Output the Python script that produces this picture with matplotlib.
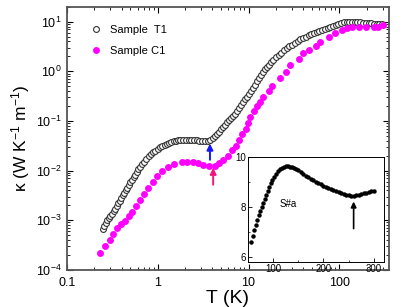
import matplotlib.pyplot as plt
import matplotlib.ticker as mticker

plt.rcParams['font.family'] = ['Liberation Sans', 'DejaVu Sans']
plt.rcParams['mathtext.default'] = 'regular'

# Sample T1 (open circles)
t1_T = [0.249, 0.259, 0.269, 0.279, 0.290, 0.302, 0.314, 0.327, 0.340, 0.353,
        0.367, 0.382, 0.397, 0.413, 0.430, 0.447, 0.465, 0.483, 0.502, 0.522,
        0.543, 0.565, 0.587, 0.611, 0.635, 0.668, 0.708, 0.750, 0.794, 0.841,
        0.891, 0.944, 1.00, 1.06, 1.12, 1.19, 1.26, 1.33, 1.41, 1.50,
        1.58, 1.68, 1.78, 1.91, 2.04, 2.19, 2.34, 2.51, 2.69, 2.88,
        3.09, 3.31, 3.55, 3.80, 4.07, 4.29, 4.51, 4.74, 4.99, 5.25,
        5.52, 5.81, 6.11, 6.43, 6.76, 7.11, 7.48, 7.87, 8.28, 8.71,
        9.16, 9.64, 10.1, 10.7, 11.2, 11.8, 12.4, 13.1, 13.7, 14.5,
        15.2, 16.0, 16.8, 17.7, 18.6, 20.0, 21.4, 22.9, 24.5, 26.3,
        28.2, 30.2, 32.4, 34.7, 37.2, 39.8, 42.7, 45.7, 49.0, 52.5,
        56.2, 60.3, 64.6, 69.2, 74.1, 79.4, 85.1, 91.2, 97.7, 105,
        112, 120, 129, 138, 148, 158, 170, 182, 195, 209,
        224, 240, 257, 275, 295]
t1_k = [6.61e-4, 7.60e-4, 8.75e-4, 1.00e-3, 1.11e-3, 1.22e-3, 1.36e-3, 1.53e-3, 1.72e-3, 1.95e-3,
        2.20e-3, 2.48e-3, 2.81e-3, 3.17e-3, 3.57e-3, 4.04e-3, 4.55e-3, 5.14e-3, 5.79e-3, 6.53e-3,
        7.36e-3, 8.32e-3, 9.38e-3, 1.06e-2, 1.19e-2, 1.34e-2, 1.51e-2, 1.71e-2, 1.93e-2, 2.14e-2,
        2.32e-2, 2.50e-2, 2.70e-2, 2.92e-2, 3.08e-2, 3.25e-2, 3.43e-2, 3.62e-2, 3.76e-2, 3.86e-2,
        3.97e-2, 4.08e-2, 4.18e-2, 4.19e-2, 4.19e-2, 4.18e-2, 4.16e-2, 4.12e-2, 4.05e-2, 3.96e-2,
        3.90e-2, 3.86e-2, 3.94e-2, 4.17e-2, 4.52e-2, 4.98e-2, 5.48e-2, 6.08e-2, 6.78e-2, 7.55e-2,
        8.41e-2, 9.33e-2, 0.1026, 0.113, 0.124, 0.138, 0.158, 0.181, 0.207, 0.238,
        0.272, 0.310, 0.355, 0.405, 0.463, 0.539, 0.628, 0.730, 0.849, 0.989,
        1.11, 1.24, 1.37, 1.53, 1.71, 1.91, 2.13, 2.38, 2.66, 2.96,
        3.21, 3.47, 3.76, 4.07, 4.40, 4.69, 4.99, 5.32, 5.66, 6.01,
        6.31, 6.61, 6.93, 7.28, 7.62, 7.98, 8.37, 8.77, 9.18, 9.50,
        9.68, 9.89, 10.07, 10.0, 9.89, 9.77, 9.68, 9.57, 9.44, 9.31,
        9.20, 9.08, 9.02, 8.97, 8.93]

# Sample C1 (filled magenta)
c1_T = [0.234, 0.264, 0.297, 0.325, 0.360, 0.395, 0.438, 0.480, 0.526, 0.578,
        0.638, 0.706, 0.781, 0.881, 0.990, 1.12, 1.29, 1.52, 1.85, 2.12,
        2.43, 2.75, 3.17, 3.69, 4.23, 4.75, 5.26, 5.88, 6.60, 7.25,
        7.88, 8.51, 9.27, 9.82, 10.5, 11.4, 12.5, 13.5, 14.5, 16.6,
        17.9, 22.1, 25.7, 28.4, 36.0, 39.8, 46.3, 55.3, 60.8, 76.9,
        88.8, 106, 120, 139, 166, 198, 238, 264, 299]
c1_k = [2.23e-4, 3.09e-4, 3.97e-4, 5.40e-4, 7.03e-4, 8.45e-4, 9.70e-4, 1.21e-3, 1.48e-3, 1.95e-3,
        2.58e-3, 3.40e-3, 4.44e-3, 5.86e-3, 7.74e-3, 9.60e-3, 1.16e-2, 1.35e-2, 1.46e-2, 1.46e-2,
        1.46e-2, 1.42e-2, 1.31e-2, 1.25e-2, 1.26e-2, 1.42e-2, 1.65e-2, 2.01e-2, 2.54e-2, 3.20e-2,
        4.18e-2, 5.35e-2, 6.97e-2, 9.08e-2, 0.120, 0.156, 0.200, 0.244, 0.298, 0.406,
        0.497, 0.720, 0.970, 1.36, 1.77, 2.30, 2.72, 3.28, 3.95, 4.82,
        5.81, 6.90, 7.33, 7.82, 7.82, 7.82, 7.90, 7.90, 8.42]

# Inset: S#a
ins_T = [57, 60, 63, 66, 69, 72, 75, 78, 81, 84, 87, 90, 93, 96, 99, 102,
         106, 110, 114, 118, 122, 126, 130, 134, 138, 142, 146, 150, 155, 160,
         165, 170, 175, 180, 185, 190, 195, 200, 205, 210, 215, 220, 225, 230,
         235, 240, 245, 250, 255, 260, 265, 270, 275, 280, 285, 290, 295, 300]
ins_k = [6.57, 6.82, 7.06, 7.28, 7.47, 7.65, 7.82, 7.98, 8.14, 8.30, 8.46, 8.63,
         8.78, 8.93, 9.07, 9.19, 9.32, 9.42, 9.50, 9.56, 9.59, 9.61, 9.61, 9.60,
         9.58, 9.54, 9.50, 9.45, 9.38, 9.31, 9.24, 9.18, 9.12, 9.06, 9.00, 8.95,
         8.89, 8.84, 8.79, 8.74, 8.70, 8.65, 8.61, 8.57, 8.54, 8.51, 8.48, 8.46,
         8.44, 8.43, 8.45, 8.48, 8.51, 8.53, 8.56, 8.58, 8.61, 8.64]

fig = plt.figure(figsize=(4.15, 3.07), dpi=100)
ax = fig.add_axes([0.161, 0.121, 0.776, 0.857])

ax.plot(t1_T, t1_k, 'o', mfc='white', mec='#333333', mew=0.8, ms=4.2,
        label='Sample  T1', zorder=3)
ax.plot(c1_T, c1_k, 'o', color='#ff00ff', mec='none', ms=5.0,
        label='Sample C1', zorder=3)

ax.set_xscale('log')
ax.set_yscale('log')
ax.set_xlim(0.1, 350)
ax.set_ylim(1e-4, 20)
ax.set_xticks([0.1, 1, 10, 100])
ax.set_xticklabels(['0.1', '1', '10', '100'])
ax.xaxis.set_minor_locator(mticker.LogLocator(base=10, subs=range(2, 10)))
ax.yaxis.set_minor_locator(mticker.LogLocator(base=10, subs=range(2, 10)))
ax.xaxis.set_minor_formatter(mticker.NullFormatter())
ax.yaxis.set_minor_formatter(mticker.NullFormatter())
ax.tick_params(which='both', direction='in', top=True, right=True, labelsize=9)
ax.tick_params(axis='x', pad=5)
ax.tick_params(which='major', length=4, width=0.8)
ax.tick_params(which='minor', length=2, width=0.6)
for s in ax.spines.values():
    s.set_linewidth(1.3)
    s.set_color('#555555')

ax.set_xlabel('T (K)', fontsize=14, labelpad=1)
ax.set_ylabel('κ (W K$^{-1}$ m$^{-1}$)', fontsize=12.5, labelpad=3)

ax.legend(loc='upper left', bbox_to_anchor=(0.025, 0.97), frameon=False,
          fontsize=8, handletextpad=0.3, labelspacing=1.0, markerscale=1.0)

# arrows
ax.annotate('', xy=(3.76, 3.5e-2), xytext=(3.76, 1.65e-2),
            arrowprops=dict(arrowstyle='-|>', color='#1515ff', lw=1.4,
                            mutation_scale=9, shrinkA=0, shrinkB=0))
ax.annotate('', xy=(4.08, 1.14e-2), xytext=(4.08, 5.2e-3),
            arrowprops=dict(arrowstyle='-|>', color='#f0157f', lw=1.4,
                            mutation_scale=9, shrinkA=0, shrinkB=0))

# inset
axi = fig.add_axes([0.597, 0.148, 0.328, 0.342])
axi.plot(ins_T, ins_k, 'o', color='black', ms=3.2, mec='none')
axi.set_xlim(50, 320)
axi.set_ylim(5.8, 10)
axi.set_xticks([100, 200, 300])
axi.set_yticks([6, 8, 10])
axi.xaxis.set_minor_locator(mticker.MultipleLocator(50))
axi.yaxis.set_minor_locator(mticker.MultipleLocator(1))
axi.tick_params(which='both', direction='in', labelsize=7, pad=1.5)
axi.tick_params(which='major', length=3, width=0.6)
axi.tick_params(which='minor', length=1.5, width=0.5)
for s in axi.spines.values():
    s.set_linewidth(0.7)
axi.text(130, 8.1, 'S#a', fontsize=7, ha='center', va='center')
axi.annotate('', xy=(260, 8.2), xytext=(260, 7.12),
             arrowprops=dict(arrowstyle='-|>', color='black', lw=1.2,
                             mutation_scale=8, shrinkA=0, shrinkB=0))

fig.savefig('out.png', dpi=100)
